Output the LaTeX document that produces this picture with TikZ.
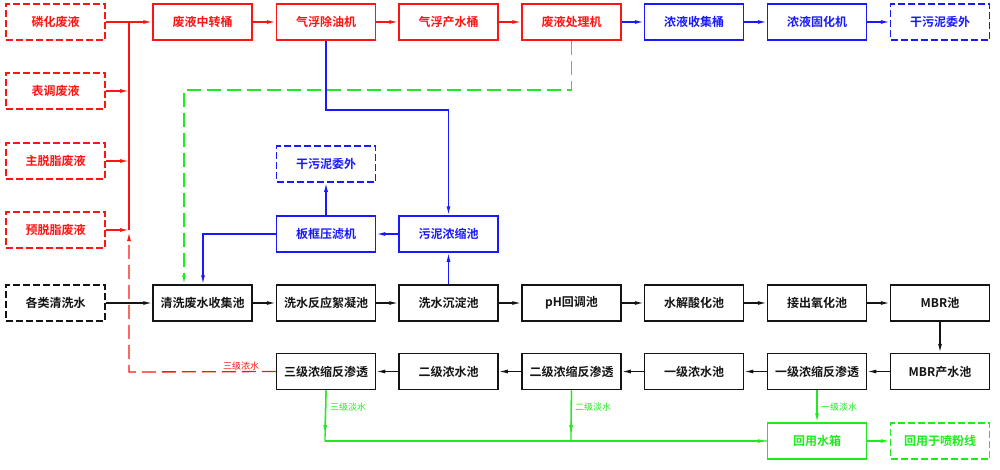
\documentclass[tikz,border=0pt]{standalone}
\usepackage{fontspec}
\setmainfont{Noto Sans CJK SC}[BoldFont={Noto Sans CJK SC Bold}]
\usetikzlibrary{arrows.meta}
\definecolor{cr}{RGB}{255,20,20}
\definecolor{cb}{RGB}{25,25,255}
\definecolor{cg}{RGB}{30,235,30}
\definecolor{ck}{RGB}{20,20,20}
\begin{document}
\begin{tikzpicture}[x=1pt,y=-1pt,
  >={Latex[length=9pt,width=4pt]},
  box/.style={draw,line width=1.5pt,minimum width=99pt,minimum height=36pt,inner sep=0pt,font=\fontsize{12}{14}\selectfont\bfseries},
  dbox/.style={box,dash pattern=on 7pt off 3pt},
  rbox/.style={box,cr,text=cr},
  rdbox/.style={dbox,cr,text=cr},
  bbox/.style={box,cb,text=cb},
  bdbox/.style={dbox,cb,text=cb},
  kbox/.style={box,ck,text=ck},
  kdbox/.style={dbox,ck,text=ck},
  gbox/.style={box,cg,text=cg},
  gdbox/.style={dbox,cg,text=cg},
  rl/.style={cr,line width=1.3pt},
  bl/.style={cb,line width=1.3pt},
  kl/.style={ck,line width=1.3pt},
  gl/.style={cg,line width=1.3pt},
  longdash/.style={dash pattern=on 14pt off 6pt},
  lab/.style={font=\fontsize{9}{10}\selectfont,inner sep=0pt}]
\useasboundingbox (0,0) rectangle (1000,469);
% top row
\node[rdbox] (n11) at (55.5,22) {磷化废液};
\node[rbox] (n12) at (202.5,22) {废液中转桶};
\node[rbox] (n13) at (326,22) {气浮除油机};
\node[rbox] (n14) at (448.5,22) {气浮产水桶};
\node[rbox] (n15) at (571.5,22) {废液处理机};
\node[bbox] (n16) at (694,22) {浓液收集桶};
\node[bbox] (n17) at (817,22) {浓液固化机};
\node[bdbox] (n18) at (940,22) {干污泥委外};
% left column
\node[rdbox] (l2) at (55.5,91) {表调废液};
\node[rdbox] (l3) at (55.5,161) {主脱脂废液};
\node[rdbox] (l4) at (55.5,230) {预脱脂废液};
% middle blue
\node[bdbox] (m1) at (326,164) {干污泥委外};
\node[bbox] (m2) at (326,234) {板框压滤机};
\node[bbox] (m3) at (448.5,234) {污泥浓缩池};
% row 3
\node[kdbox] (a1) at (55.5,303) {各类清洗水};
\node[kbox] (a2) at (202.5,303) {清洗废水收集池};
\node[kbox] (a3) at (326,303) {洗水反应絮凝池};
\node[kbox] (a4) at (448.5,303) {洗水沉淀池};
\node[kbox] (a5) at (571.5,303) {pH回调池};
\node[kbox] (a6) at (694,303) {水解酸化池};
\node[kbox] (a7) at (817,303) {接出氧化池};
\node[kbox] (a8) at (940,303) {MBR池};
% row 4
\node[kbox] (b3) at (326,371.5) {三级浓缩反渗透};
\node[kbox] (b4) at (448.5,371.5) {二级浓水池};
\node[kbox] (b5) at (571.5,371.5) {二级浓缩反渗透};
\node[kbox] (b6) at (694,371.5) {一级浓水池};
\node[kbox] (b7) at (817,371.5) {一级浓缩反渗透};
\node[kbox] (b8) at (940,371.5) {MBR产水池};
% row 5
\node[gbox] (g7) at (817,441) {回用水箱};
\node[gdbox] (g8) at (940,441) {回用于喷粉线};
% red connectors
\coordinate (bus1) at (129,22);
\coordinate (bus4) at (129,230);
\draw[rl] (bus1) -- (bus4);
\draw[rl,->] (n11.east) -- (n12.west);
\draw[rl,->] (l2.east) -- (l2.east -| bus1);
\draw[rl,->] (l3.east) -- (l3.east -| bus1);
\draw[rl,->] (l4.east) -- (l4.east -| bus1);
\draw[rl,->] (n12) -- (n13);
\draw[rl,->] (n13) -- (n14);
\draw[rl,->] (n14) -- (n15);
% blue connectors top
\draw[bl,->] (n15) -- (n16);
\draw[bl,->] (n16) -- (n17);
\draw[bl,->] (n17) -- (n18);
% green dashed return
\coordinate (gturn) at (184,90);
\draw[gl,longdash,->] (n15.south) |- (gturn) -- (gturn |- a2.north);
% blue sludge
\coordinate (bturn) at (326,110);
\draw[bl,->] (n13.south) -- (bturn) -| (m3.north);
\draw[bl,->] (m3.west) -- (m2.east);
\draw[bl,->] (m2.north) -- (m1.south);
\coordinate (bk) at (203,234);
\draw[bl,->] (m2.west) -- (bk) -- (bk |- a2.north);
\draw[bl,->] (a4.north) -- (m3.south);
% black main line
\draw[kl,->] (a1) -- (a2);
\draw[kl,->] (a2) -- (a3);
\draw[kl,->] (a3) -- (a4);
\draw[kl,->] (a4) -- (a5);
\draw[kl,->] (a5) -- (a6);
\draw[kl,->] (a6) -- (a7);
\draw[kl,->] (a7) -- (a8);
\draw[kl,->] (a8) -- (b8);
\draw[kl,->] (b8) -- (b7);
\draw[kl,->] (b7) -- (b6);
\draw[kl,->] (b6) -- (b5);
\draw[kl,->] (b5) -- (b4);
\draw[kl,->] (b4) -- (b3);
% red dashed concentrate return
\coordinate (rc) at (129,372);
\draw[rl,longdash,->] (b3.west) -- (rc) -- (129,232);
\node[lab,cr,anchor=south] (lr) at (241,370) {三级浓水};
% green permeate
\coordinate (gy3) at (325,441);
\coordinate (gy5) at (571,441);
\draw[gl,->] (b3.south) -- (325,434);
\draw[gl] (b3.south) -- (gy3) -- (g7.west);
\draw[gl,->] (gy3) -- (g7.west);
\draw[gl,->] (b5.south) -- (571,434);
\draw[gl] (b5.south) -- (gy5);
\draw[gl,->] (b7.south) -- (g7.north);
\draw[gl,->] (g7) -- (g8);
\node[lab,cg,anchor=west] (t3) at (330,407) {三级淡水};
\node[lab,cg,anchor=west] (t2) at (575,407) {二级淡水};
\node[lab,cg,anchor=west] (t1) at (821,407) {一级淡水};
\end{tikzpicture}
\end{document}
